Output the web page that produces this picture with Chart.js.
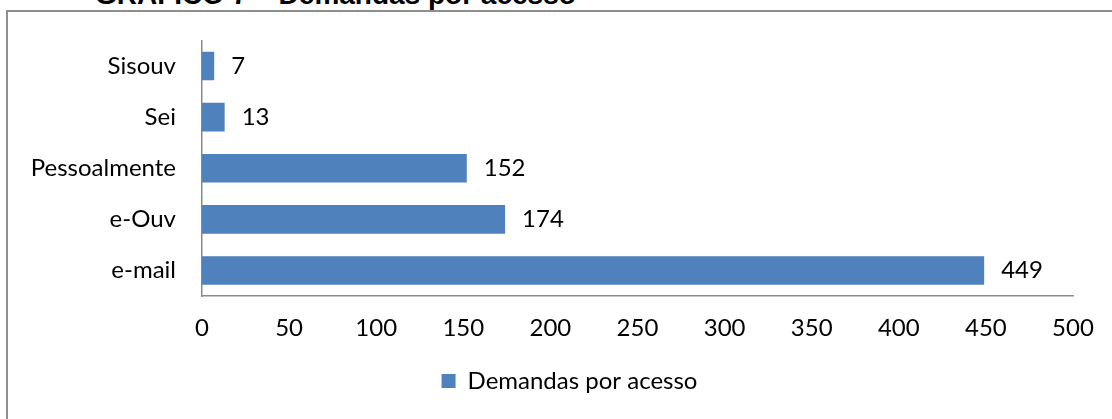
<!DOCTYPE html>
<html>
<head>
<meta charset="utf-8">
<script src="https://cdn.jsdelivr.net/npm/chart.js"></script>
<style>
  html, body { margin: 0; padding: 0; background: #fff; overflow: hidden; }
  #wrap { position: relative; width: 1112px; height: 419px; overflow: hidden; }
  #frame { position: absolute; left: 6px; top: 10px; width: 2000px; height: 1000px;
           border-left: 2px solid #8f8f8f; border-top: 2px solid #8f8f8f; }
  #title { position: absolute; left: 95px; top: -19px; font: bold 28px "Liberation Sans", Arial, sans-serif;
           line-height: 28px; color: #000; white-space: nowrap; }
  canvas { position: absolute; left: 0; top: 0; }
</style>
</head>
<body>
<div id="wrap">
  <div id="frame"></div>
  <div id="title">GRÁFICO 7 – Demandas por acesso</div>
  <canvas id="barChart" width="1112" height="419"></canvas>
</div>
<script>
const categories = ['Sisouv', 'Sei', 'Pessoalmente', 'e-Ouv', 'e-mail'];
const demandas = [7, 13, 152, 174, 449];
const seriesName = 'Demandas por acesso';
const xTicks = [0, 50, 100, 150, 200, 250, 300, 350, 400, 450, 500];

const fontFamily = 'Lato, "Open Sans", sans-serif';
const fontSize = 24;

// rotulos de valor ao lado de cada barra
const valueLabels = {
    id: 'valueLabels',
    afterDatasetsDraw(chart) {
        const ctx = chart.ctx;
        const meta = chart.getDatasetMeta(0);
        ctx.save();
        ctx.font = fontSize + 'px ' + fontFamily;
        ctx.fillStyle = '#000';
        ctx.textAlign = 'left';
        ctx.textBaseline = 'middle';
        meta.data.forEach((bar, i) => {
            ctx.fillText(String(chart.data.datasets[0].data[i]), bar.x + 17, bar.y);
        });
        ctx.restore();
    }
};

// legenda um pouco deslocada para a direita (centrada na moldura)
const legendShift = {
    id: 'legendShift',
    afterLayout(chart) {
        if (chart.legend) chart.legend.left += 66;
    }
};

const canvas = document.getElementById('barChart').getContext('2d');
new Chart(canvas, {
    type: 'bar',
    data: {
        labels: categories,
        datasets: [{
            label: seriesName,
            data: demandas,
            backgroundColor: '#4f81bd',
            borderWidth: 0,
            barPercentage: 0.56,
            categoryPercentage: 1
        }]
    },
    options: {
        indexAxis: 'y',
        responsive: false,
        animation: false,
        events: [],
        layout: { padding: { top: 40, right: 39, bottom: 16, left: 0 } },
        plugins: {
            title: { display: false },
            tooltip: { enabled: false },
            legend: {
                position: 'bottom',
                labels: {
                    boxWidth: 14,
                    boxHeight: 14,
                    padding: 9,
                    color: '#000',
                    font: { family: fontFamily, size: fontSize }
                }
            }
        },
        scales: {
            x: {
                min: 0,
                max: 500,
                afterBuildTicks(scale) {
                    scale.ticks = xTicks.map(v => ({ value: v }));
                },
                afterFit(scale) { scale.height = 64; },
                grid: { display: false, drawTicks: false },
                border: { color: '#8a8a8a', width: 1.5 },
                ticks: {
                    padding: 18,
                    color: '#000',
                    maxRotation: 0,
                    autoSkip: false,
                    font: { family: fontFamily, size: fontSize }
                }
            },
            y: {
                afterFit(scale) { scale.width = 202; },
                grid: { display: false, drawTicks: false },
                border: { color: '#8a8a8a', width: 1.5 },
                ticks: {
                    padding: 26,
                    color: '#000',
                    font: { family: fontFamily, size: fontSize }
                }
            }
        }
    },
    plugins: [valueLabels, legendShift]
});
</script>
</body>
</html>
